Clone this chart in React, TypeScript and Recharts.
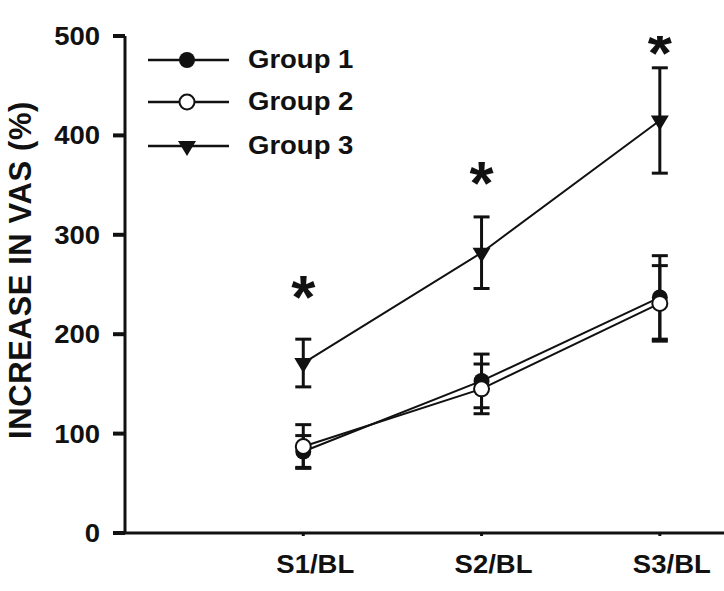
import React from "react";
import { LineChart, Line, XAxis, YAxis, ErrorBar, Label } from "recharts";

// values (mean and SEM)
const categories = ["S1/BL", "S2/BL", "S3/BL"];
const group1 = [82, 153, 237];
const group1Err = [16, 27, 42];
const group2 = [87, 145, 231];
const group2Err = [22, 25, 38];
const group3 = [171, 282, 415];
const group3Err = [24, 36, 53];
// height (in VAS %) where each significance star is printed
const sigMarks = [251, 365, 496];
const yTicks = [0, 100, 200, 300, 400, 500];
const seriesNames = ["Group 1", "Group 2", "Group 3"];

const INK = "#111";
const FONT = '"Liberation Sans", Arial, Helvetica, sans-serif';
// the original lettering is a bit wider than Arial Bold
const WIDE = 1.1;

const data = categories.map((label, i) => ({
  x: i + 1,
  label,
  g1: group1[i],
  g1Err: group1Err[i],
  g2: group2[i],
  g2Err: group2Err[i],
  g3: group3[i],
  g3Err: group3Err[i],
  sig: sigMarks[i],
}));

// marker shapes
function marker(kind: number, cx: number, cy: number, key?: string) {
  if (kind === 0) return <circle key={key} cx={cx} cy={cy} r={8} fill={INK} />;
  if (kind === 1)
    return <circle key={key} cx={cx} cy={cy} r={7.5} fill="#fff" stroke={INK} strokeWidth={2} />;
  return (
    <path
      key={key}
      d={`M${cx - 9},${cy - 5} L${cx + 9},${cy - 5} L${cx},${cy + 10} Z`}
      fill={INK}
    />
  );
}

const dotFor = (kind: number) => (p: any) => marker(kind, p.cx, p.cy, `d${kind}-${p.index}`);

// bold text stretched sideways a little
function WideText({ x, y, anchor, size, children }: any) {
  return (
    <text
      transform={`translate(${x},${y}) scale(${WIDE},1)`}
      textAnchor={anchor}
      fontFamily={FONT}
      fontWeight="bold"
      fontSize={size}
      fill={INK}
    >
      {children}
    </text>
  );
}

const Star = (p: any) => (
  <text
    key={`s-${p.index}`}
    x={p.cx}
    y={p.cy + 34}
    textAnchor="middle"
    fontFamily={FONT}
    fontWeight="bold"
    fontSize={62}
    fill={INK}
  >
    *
  </text>
);

const XTick = (p: any) => (
  <WideText x={p.x + 12} y={p.y + 37} anchor="middle" size={25}>
    {categories[p.payload.value - 1]}
  </WideText>
);

const YTick = (p: any) => (
  <WideText x={p.x} y={p.y + 9} anchor="end" size={25}>
    {p.payload.value}
  </WideText>
);

const YLabel = () => (
  <text
    transform="translate(31, 270) rotate(-90)"
    textAnchor="middle"
    fontFamily={FONT}
    fontWeight="bold"
    fontSize={31}
    letterSpacing={0.6}
    fill={INK}
  >
    INCREASE IN VAS (%)
  </text>
);

// legend drawn on top of the plot, upper left
function LegendBox() {
  const rows = [60, 102, 146];
  return (
    <svg
      width={400}
      height={180}
      style={{ position: "absolute", left: 0, top: 0, pointerEvents: "none" }}
    >
      {seriesNames.map((name, i) => (
        <g key={name}>
          <line x1={148} x2={229} y1={rows[i]} y2={rows[i]} stroke={INK} strokeWidth={2.5} />
          {marker(i, 187, rows[i])}
          <WideText x={248} y={rows[i] + 8} anchor="start" size={25}>
            {name}
          </WideText>
        </g>
      ))}
    </svg>
  );
}

export default function App() {
  return (
    <div style={{ position: "absolute", left: 0, top: 0, width: 724, height: 591, background: "#fff" }}>
      <LineChart
        width={724}
        height={591}
        data={data}
        margin={{ top: 36, right: 0, bottom: 0, left: 0 }}
      >
        <XAxis
          dataKey="x"
          type="number"
          domain={[0, 3.36]}
          ticks={[1, 2, 3]}
          allowDataOverflow
          height={58}
          axisLine={{ stroke: INK, strokeWidth: 3 }}
          tickLine={{ stroke: INK, strokeWidth: 3 }}
          tickSize={3}
          tickMargin={0}
          tick={<XTick />}
        />
        <YAxis
          type="number"
          domain={[0, 500]}
          ticks={yTicks}
          allowDataOverflow
          width={125}
          axisLine={{ stroke: INK, strokeWidth: 3 }}
          tickLine={{ stroke: INK, strokeWidth: 4 }}
          tickSize={12}
          tickMargin={13}
          tick={<YTick />}
        >
          <Label content={<YLabel />} />
        </YAxis>
        <Line
          dataKey="g3"
          stroke={INK}
          strokeWidth={2}
          dot={dotFor(2)}
          activeDot={false}
          isAnimationActive={false}
        >
          <ErrorBar dataKey="g3Err" direction="y" width={8} stroke={INK} strokeWidth={3} />
        </Line>
        <Line
          dataKey="g1"
          stroke={INK}
          strokeWidth={2}
          dot={dotFor(0)}
          activeDot={false}
          isAnimationActive={false}
        >
          <ErrorBar dataKey="g1Err" direction="y" width={8} stroke={INK} strokeWidth={3} />
        </Line>
        <Line
          dataKey="g2"
          stroke={INK}
          strokeWidth={2}
          dot={dotFor(1)}
          activeDot={false}
          isAnimationActive={false}
        >
          <ErrorBar dataKey="g2Err" direction="y" width={8} stroke={INK} strokeWidth={3} />
        </Line>
        <Line
          dataKey="sig"
          stroke="none"
          dot={Star}
          activeDot={false}
          legendType="none"
          isAnimationActive={false}
        />
      </LineChart>
      <LegendBox />
    </div>
  );
}
